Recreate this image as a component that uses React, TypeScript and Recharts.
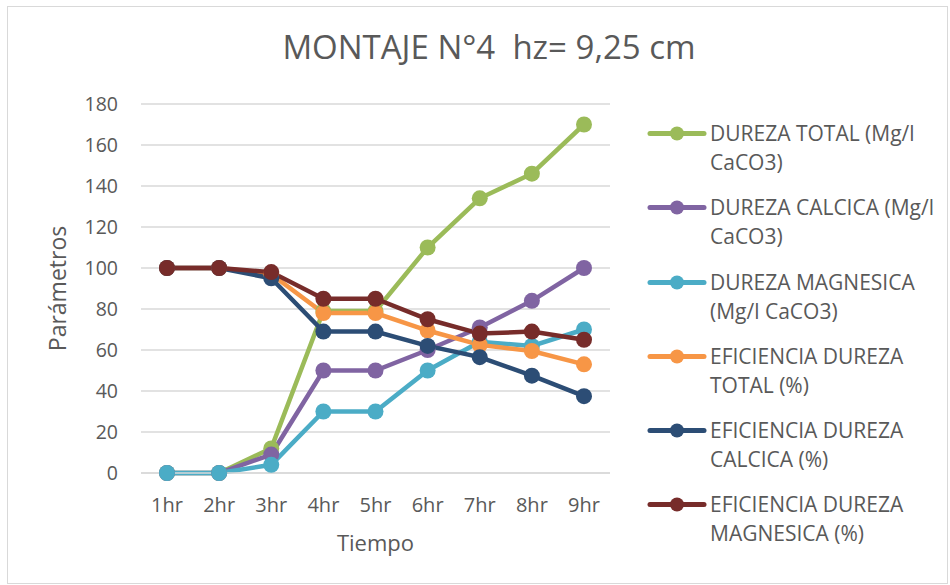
import React from 'react';
import { LineChart, Line, XAxis, YAxis, CartesianGrid, Legend, Label } from 'recharts';

const categories = ['1hr', '2hr', '3hr', '4hr', '5hr', '6hr', '7hr', '8hr', '9hr'];
const durezaTotal = [0, 0, 12, 79, 79, 110, 134, 146, 170];
const durezaCalcica = [0, 0, 9, 50, 50, 60, 71, 84, 100];
const durezaMagnesica = [0, 0, 4, 30, 30, 50, 64, 62, 70];
const eficTotal = [100, 100, 97, 78, 78, 69.5, 62.5, 59.5, 53];
const eficCalcica = [100, 100, 95, 69, 69, 62, 56.5, 47.5, 37.5];
const eficMagnesica = [100, 100, 98, 85, 85, 75, 68, 69, 65];
const yTicks = [0, 20, 40, 60, 80, 100, 120, 140, 160, 180];

const seriesNames = [
  'DUREZA TOTAL (Mg/l CaCO3)',
  'DUREZA CALCICA (Mg/l CaCO3)',
  'DUREZA MAGNESICA (Mg/l CaCO3)',
  'EFICIENCIA DUREZA TOTAL (%)',
  'EFICIENCIA DUREZA CALCICA (%)',
  'EFICIENCIA DUREZA MAGNESICA (%)',
];
const legendLines = [
  ['DUREZA TOTAL (Mg/l', 'CaCO3)'],
  ['DUREZA CALCICA (Mg/l', 'CaCO3)'],
  ['DUREZA MAGNESICA', '(Mg/l CaCO3)'],
  ['EFICIENCIA DUREZA', 'TOTAL (%)'],
  ['EFICIENCIA DUREZA', 'CALCICA (%)'],
  ['EFICIENCIA DUREZA', 'MAGNESICA (%)'],
];
const colors = ['#9BBB59', '#8064A2', '#4BACC6', '#F79646', '#2C4D75', '#772C2A'];
const seriesValues = [durezaTotal, durezaCalcica, durezaMagnesica, eficTotal, eficCalcica, eficMagnesica];

const data = categories.map((c, i) => {
  const row: any = { name: c };
  seriesValues.forEach((vals, k) => {
    row['s' + k] = vals[i];
  });
  return row;
});

const FONT = '"Open Sans", sans-serif';
const TEXT = '#595959';

const LegendContent = () => (
  <div style={{ fontFamily: FONT, color: TEXT, fontSize: 21 }}>
    {legendLines.map((lines, k) => (
      <div key={k} style={{ display: 'flex', alignItems: 'flex-start', height: 74.3 }}>
        <svg width={62} height={29} style={{ flexShrink: 0 }}>
          <line x1={5} y1={14.5} x2={59} y2={14.5} stroke={colors[k]} strokeWidth={5} strokeLinecap="round" />
          <circle cx={32} cy={14.5} r={7} fill={colors[k]} />
        </svg>
        <div style={{ lineHeight: '29px', marginLeft: 3, whiteSpace: 'nowrap' }}>
          <div>{lines[0]}</div>
          <div>{lines[1]}</div>
        </div>
      </div>
    ))}
  </div>
);

export default function App() {
  return (
    <div style={{ position: 'absolute', left: 0, top: 0, width: 950, height: 585, background: '#fff' }}>
      <div
        style={{
          position: 'absolute',
          left: 7,
          top: 6,
          width: 941,
          height: 578,
          border: '1.5px solid #d9d9d9',
          boxSizing: 'border-box',
        }}
      />
      <div
        style={{
          position: 'absolute',
          left: 0,
          top: 24,
          width: 978,
          textAlign: 'center',
          fontFamily: FONT,
          fontSize: 33,
          color: TEXT,
          whiteSpace: 'pre',
        }}
      >
        {'MONTAJE N°4  hz= 9,25 cm'}
      </div>
      <div style={{ position: 'absolute', left: 0, top: 0 }}>
        <LineChart width={950} height={585} data={data} margin={{ top: 104, right: 40, left: 0, bottom: 0 }}>
          <CartesianGrid vertical={false} stroke="#d9d9d9" strokeWidth={1.5} />
          <XAxis
            dataKey="name"
            height={112}
            padding={{ left: 26, right: 26 }}
            axisLine={{ stroke: '#d9d9d9', strokeWidth: 1.5 }}
            tickLine={false}
            tickSize={0}
            tickMargin={25}
            tick={{ fill: TEXT, fontSize: 20, fontFamily: FONT }}
          >
            <Label value="Tiempo" position="insideTop" offset={62} fill={TEXT} fontSize={22} fontFamily={FONT} />
          </XAxis>
          <YAxis
            width={141}
            domain={[0, 180]}
            ticks={yTicks}
            axisLine={false}
            tickLine={false}
            tickSize={0}
            tickMargin={23}
            tick={{ fill: TEXT, fontSize: 19.5, fontFamily: FONT }}
          >
            <Label value="Parámetros" angle={-90} position="insideLeft" offset={58} fill={TEXT} fontSize={23} fontFamily={FONT} style={{ textAnchor: 'middle' }} />
          </YAxis>
          <Legend
            layout="vertical"
            align="right"
            verticalAlign="top"
            content={<LegendContent />}
            wrapperStyle={{ left: 645, top: 119, width: 300 }}
          />
          {seriesNames.map((n, k) => (
            <Line
              key={k}
              dataKey={'s' + k}
              name={n}
              stroke={colors[k]}
              strokeWidth={4.5}
              dot={{ r: 8, fill: colors[k], stroke: colors[k], strokeWidth: 0 }}
              activeDot={false}
              isAnimationActive={false}
            />
          ))}
        </LineChart>
      </div>
    </div>
  );
}
